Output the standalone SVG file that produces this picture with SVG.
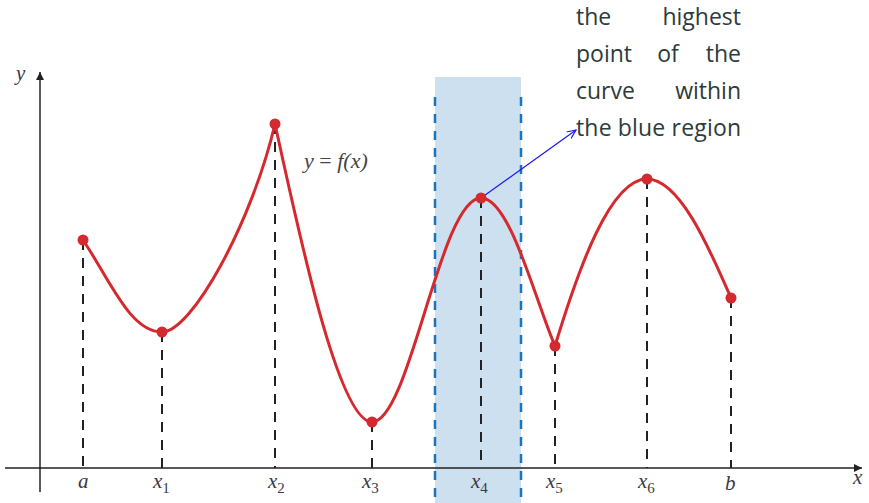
<svg xmlns="http://www.w3.org/2000/svg" width="869" height="503" viewBox="0 0 869 503">
<defs>
<style>
.lbl{font-family:"Liberation Serif",serif;font-style:italic;font-size:21px;fill:#3a3a44}
.sub{font-family:"Liberation Serif",serif;font-size:15px;fill:#3a3a44;font-style:normal}
.drop{stroke:#222;stroke-width:2;stroke-dasharray:10,8;fill:none}
.dot{fill:#d42a2f}
.note{font-family:"Open Sans",Lato,sans-serif;font-size:23px;fill:#2d3b3b}
.bd{stroke:#1a75c0;stroke-width:2.5;stroke-dasharray:9,8}
</style>
<marker id="ah" viewBox="0 0 10 10" refX="10" refY="5" markerWidth="8" markerHeight="8" orient="auto" markerUnits="userSpaceOnUse">
<path d="M0,0 L10,5 L0,10 z" fill="#222"/>
</marker>
<marker id="bh" viewBox="0 0 10 10" refX="9" refY="5" markerWidth="10" markerHeight="10" orient="auto" markerUnits="userSpaceOnUse">
<path d="M0,1 L9,5 L0,9" fill="none" stroke="#1a1aee" stroke-width="1.2"/>
</marker>
</defs>
<rect x="435" y="77" width="86" height="426" fill="#cce0ef"/>
<line class="bd" x1="435" y1="97" x2="435" y2="503"/>
<line class="bd" x1="521" y1="97" x2="521" y2="503"/>
<g id="axes">
<line x1="5" y1="468" x2="862" y2="468" stroke="#222" stroke-width="1.5" marker-end="url(#ah)"/>
<line x1="40" y1="492" x2="40" y2="72" stroke="#222" stroke-width="1.5" marker-end="url(#ah)"/>
<text class="lbl" x="16" y="80">y</text>
<text class="lbl" x="853" y="484">x</text>
</g>
<g id="connectors">
<line class="drop" x1="83" y1="240" x2="83" y2="468"/>
<line class="drop" x1="162" y1="332" x2="162" y2="468"/>
<line class="drop" x1="275" y1="124" x2="275" y2="468"/>
<line class="drop" x1="372" y1="422" x2="372" y2="468"/>
<line class="drop" x1="481" y1="198" x2="481" y2="468"/>
<line class="drop" x1="555" y1="346" x2="555" y2="468"/>
<line class="drop" x1="647" y1="179" x2="647" y2="468"/>
<line class="drop" x1="731" y1="298" x2="731" y2="468"/>
<line x1="481" y1="198" x2="576" y2="130" stroke="#1a1aee" stroke-width="1.2" marker-end="url(#bh)"/>
</g>
<g id="curve">
<path d="M83,240 C110,280 130,332 162,332 C192,332 252,222 275,124 C298,228 338,422 372,422 C410,422 440,198 481,198 C510,198 535,300 555,346 C578,270 610,179 647,179 C680,179 710,250 731,298" fill="none" stroke="#d42a2f" stroke-width="3"/>
<text class="lbl" x="304" y="168" style="fill:#444;font-size:22px">y <tspan font-style="normal">=</tspan> f(x)</text>
</g>
<g id="point-a"><circle class="dot" cx="83" cy="240" r="5.5"/><text class="lbl" x="78" y="488">a</text></g>
<g id="point-x1"><circle class="dot" cx="162" cy="332" r="5.5"/><text class="lbl" x="153" y="488">x<tspan class="sub" dy="5">1</tspan></text></g>
<g id="point-x2"><circle class="dot" cx="275" cy="124" r="5.5"/><text class="lbl" x="268" y="488">x<tspan class="sub" dy="5">2</tspan></text></g>
<g id="point-x3"><circle class="dot" cx="372" cy="422" r="5.5"/><text class="lbl" x="362" y="488">x<tspan class="sub" dy="5">3</tspan></text></g>
<g id="point-x4"><circle class="dot" cx="481" cy="198" r="5.5"/><text class="lbl" x="471" y="488">x<tspan class="sub" dy="5">4</tspan></text></g>
<g id="point-x5"><circle class="dot" cx="555" cy="346" r="5.5"/><text class="lbl" x="546" y="488">x<tspan class="sub" dy="5">5</tspan></text></g>
<g id="point-x6"><circle class="dot" cx="647" cy="179" r="5.5"/><text class="lbl" x="638" y="488">x<tspan class="sub" dy="5">6</tspan></text></g>
<g id="point-b"><circle class="dot" cx="731" cy="298" r="5.5"/><text class="lbl" x="725" y="490">b</text></g>
<g id="note">
<text class="note" x="576" y="25">the</text><text class="note" x="741" y="25" text-anchor="end">highest</text>
<text class="note" x="576" y="62">point</text><text class="note" x="668" y="62" text-anchor="middle">of</text><text class="note" x="741" y="62" text-anchor="end">the</text>
<text class="note" x="576" y="99">curve</text><text class="note" x="741" y="99" text-anchor="end">within</text>
<text class="note" x="576" y="136" textLength="165" lengthAdjust="spacing">the blue region</text>
</g>
</svg>
